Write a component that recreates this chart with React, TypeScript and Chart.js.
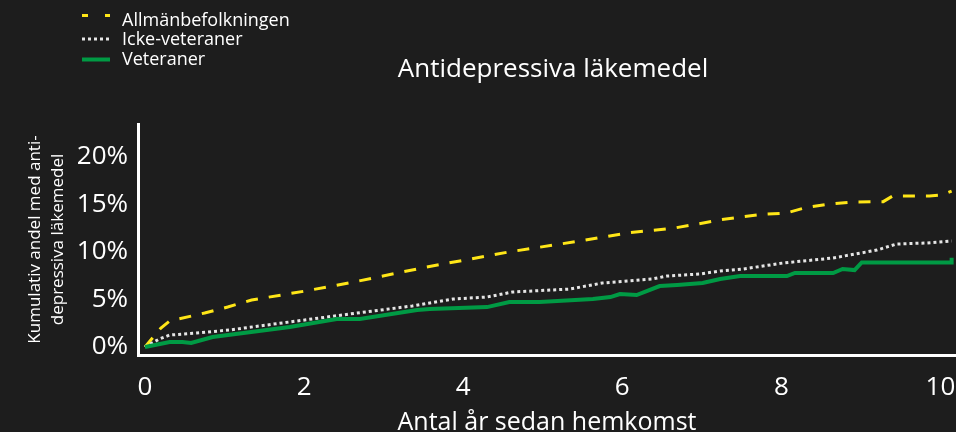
import React, { useEffect, useRef } from "react";
import { Chart, registerables } from "chart.js";

Chart.register(...registerables);

const chartTitle = "Antidepressiva läkemedel";
const xAxisTitle = "Antal år sedan hemkomst";
const yAxisTitle = ["Kumulativ andel med anti-", "depressiva läkemedel"];
const seriesNames = ["Allmänbefolkningen", "Icke-veteraner", "Veteraner"];

const xTickStep = 2;
const yTickStep = 5;

// Allmänbefolkningen (general population)
const genX = [0, 0.2, 0.31, 0.75, 1.04, 1.34, 2.02, 2.6, 3.54, 4.02, 4.57, 5.47, 6.06, 6.66, 6.95, 7.23, 7.75, 8.06, 8.31, 8.6, 8.89, 9.28, 9.4, 9.86, 10.02, 10.14];
const genY = [0, 2.0, 2.74, 3.58, 4.21, 4.95, 5.9, 6.8, 8.42, 9.15, 10.0, 11.16, 12.0, 12.53, 12.95, 13.4, 13.95, 14.1, 14.68, 15.05, 15.26, 15.3, 15.9, 15.9, 16.0, 16.4];

// Icke-veteraner (non-veterans)
const nonVetX = [0, 0.18, 0.31, 0.65, 1.06, 1.91, 2.57, 3.36, 3.58, 3.87, 4.3, 4.62, 5.34, 5.75, 6.38, 6.56, 6.97, 7.23, 7.52, 8.02, 8.65, 9.2, 9.45, 9.83, 10.14];
const nonVetY = [0, 0.84, 1.26, 1.47, 1.79, 2.74, 3.47, 4.32, 4.63, 5.05, 5.26, 5.79, 6.1, 6.74, 7.16, 7.47, 7.68, 8.0, 8.21, 8.84, 9.37, 10.2, 10.84, 10.95, 11.16];

// Veteraner (veterans)
const vetX = [0, 0.31, 0.47, 0.58, 0.85, 1.82, 2.41, 2.7, 3.42, 3.58, 4.3, 4.58, 4.96, 5.63, 5.85, 5.97, 6.18, 6.47, 6.69, 7.01, 7.23, 7.48, 8.07, 8.17, 8.65, 8.77, 8.92, 9.01, 10.14, 10.14];
const vetY = [0, 0.53, 0.53, 0.42, 1.05, 2.1, 2.95, 2.95, 3.9, 4.0, 4.2, 4.74, 4.74, 5.05, 5.26, 5.58, 5.47, 6.42, 6.53, 6.74, 7.16, 7.47, 7.47, 7.79, 7.79, 8.21, 8.1, 8.9, 8.9, 9.4];

const FONT = "'Open Sans', 'Noto Sans', sans-serif";
const WHITE = "#ffffff";
const YELLOW = "#ffe617";
const DOTS = "#e6e6e6";
const GREEN = "#009a44";

const toPoints = (xs: number[], ys: number[]) => xs.map((x, i) => ({ x, y: ys[i] }));

const legendItems = [
  { label: seriesNames[0], color: YELLOW, dash: [6, 17], width: 3, y: 15.5, ty: 25.5 },
  { label: seriesNames[1], color: DOTS, dash: [3, 3], width: 3, y: 39, ty: 45 },
  { label: seriesNames[2], color: GREEN, dash: [], width: 4, y: 59.5, ty: 64.5 },
];

const decorPlugin = {
  id: "decor",
  afterDraw(chart: any) {
    const ctx = chart.ctx;
    ctx.save();
    ctx.fillStyle = WHITE;
    ctx.font = `26px ${FONT}`;
    ctx.textAlign = "center";
    ctx.textBaseline = "alphabetic";
    ctx.fillText(chartTitle, 553, 76.5);

    ctx.font = `18px ${FONT}`;
    ctx.textAlign = "left";
    legendItems.forEach((it) => {
      ctx.beginPath();
      ctx.setLineDash(it.dash);
      ctx.lineWidth = it.width;
      ctx.strokeStyle = it.color;
      ctx.lineCap = "butt";
      ctx.moveTo(82, it.y);
      ctx.lineTo(110, it.y);
      ctx.stroke();
      ctx.setLineDash([]);
      ctx.fillStyle = WHITE;
      ctx.fillText(it.label, 122, it.ty);
    });
    ctx.restore();
  },
};

export default function App() {
  const ref = useRef<HTMLCanvasElement | null>(null);
  useEffect(() => {
    if (!ref.current) return;
    const chart = new Chart(ref.current, {
      type: "line",
      data: {
        datasets: [
          {
            label: seriesNames[2],
            data: toPoints(vetX, vetY),
            borderColor: GREEN,
            borderWidth: 4,
            pointRadius: 0,
            tension: 0,
            fill: false,
          },
          {
            label: seriesNames[1],
            data: toPoints(nonVetX, nonVetY),
            borderColor: DOTS,
            borderWidth: 3,
            borderDash: [3, 3],
            pointRadius: 0,
            tension: 0,
            fill: false,
          },
          {
            label: seriesNames[0],
            data: toPoints(genX, genY),
            borderColor: YELLOW,
            borderWidth: 3,
            borderDash: [12, 11],
            pointRadius: 0,
            tension: 0,
            fill: false,
          },
        ],
      },
      options: {
        animation: false,
        responsive: false,
        maintainAspectRatio: false,
        layout: { padding: { top: 124, left: 0, right: 0, bottom: 0 } },
        plugins: {
          legend: { display: false },
          title: { display: false },
          tooltip: { enabled: false },
        },
        scales: {
          x: {
            type: "linear",
            min: -0.088,
            max: 10.195,
            grid: { display: false, drawTicks: false },
            border: { display: true, color: WHITE, width: 3 },
            ticks: {
              stepSize: xTickStep,
              includeBounds: false,
              autoSkip: false,
              maxRotation: 0,
              color: WHITE,
              padding: 17,
              font: { family: FONT, size: 26 },
            },
            title: {
              display: true,
              text: xAxisTitle,
              color: WHITE,
              font: { family: FONT, size: 25, lineHeight: 0.76 },
              padding: 0,
            },
            afterFit: (s: any) => {
              s.height = 77;
              s.paddingLeft = 0;
              s.paddingRight = 0;
            },
          },
          y: {
            type: "linear",
            min: -0.84,
            max: 23.47,
            grid: { display: false, drawTicks: false },
            border: { display: true, color: WHITE, width: 3 },
            ticks: {
              stepSize: yTickStep,
              includeBounds: false,
              color: WHITE,
              padding: 10,
              font: { family: FONT, size: 26 },
              callback: (v: any) => `${v}%`,
            },
            title: {
              display: true,
              text: yAxisTitle,
              color: WHITE,
              font: { family: FONT, size: 17, lineHeight: 1.35 },
              padding: { top: 24, bottom: 0 },
            },
            afterFit: (s: any) => {
              s.width = 138;
              s.paddingTop = 0;
              s.paddingBottom = 0;
            },
          },
        },
      },
      plugins: [decorPlugin],
    });
    return () => chart.destroy();
  }, []);

  return (
    <div
      style={{
        position: "fixed",
        left: 0,
        top: 0,
        width: 956,
        height: 432,
        background: "#1d1d1d",
      }}
    >
      <canvas ref={ref} width={956} height={432} style={{ width: 956, height: 432, display: "block" }} />
    </div>
  );
}
